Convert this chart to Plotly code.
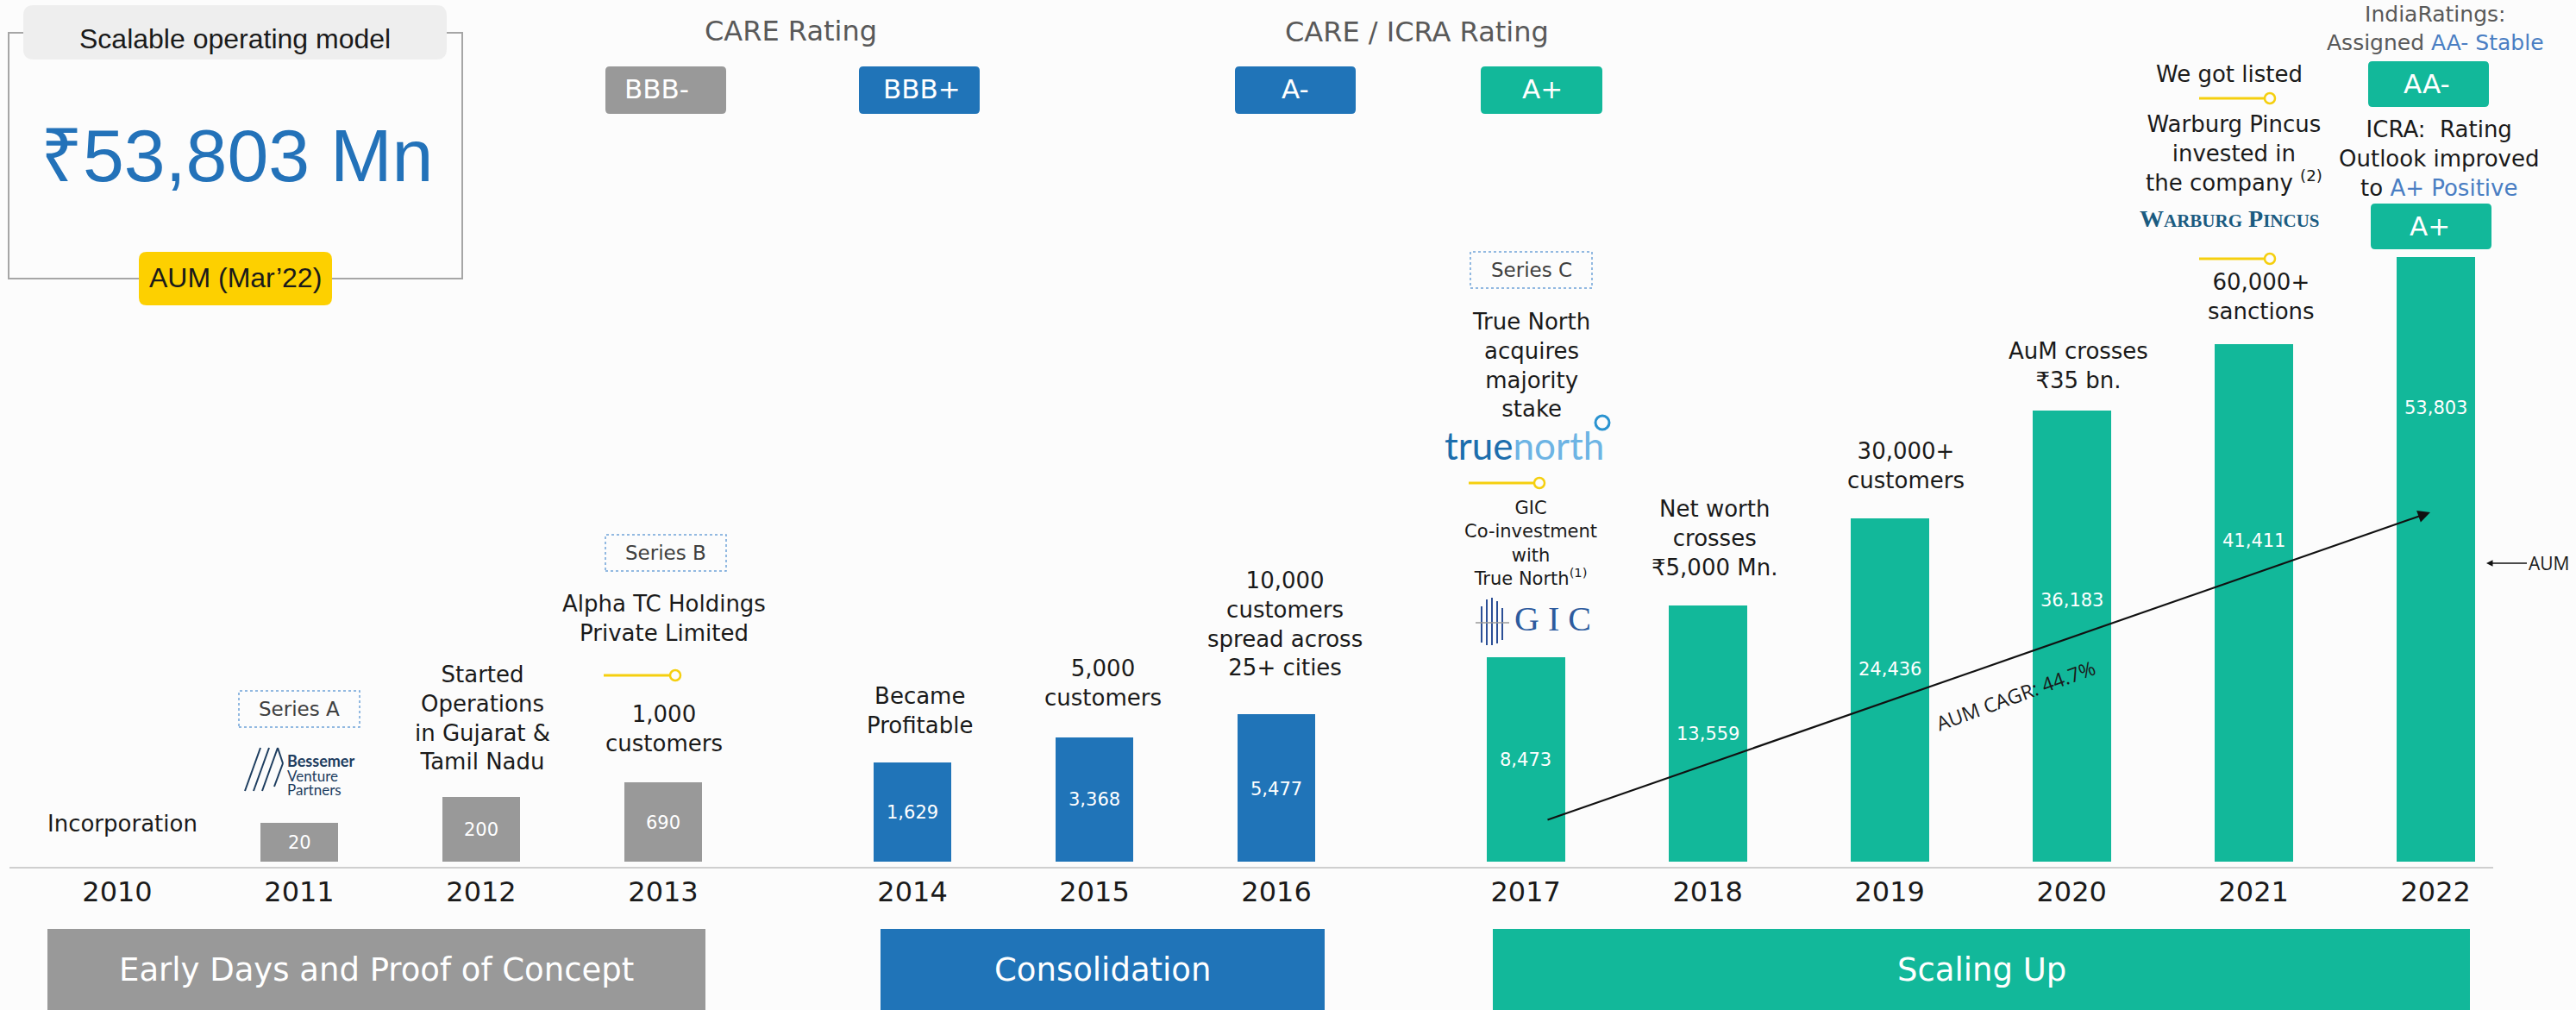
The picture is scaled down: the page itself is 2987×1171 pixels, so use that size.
import plotly.graph_objects as go

# ---------------- data ----------------
years = [2010, 2011, 2012, 2013, 2014, 2015, 2016, 2017, 2018, 2019, 2020, 2021, 2022]
phase_of_year = [0, 0, 0, 0, 1, 1, 1, 2, 2, 2, 2, 2, 2]
bar_years = [2011, 2012, 2013, 2014, 2015, 2016, 2017, 2018, 2019, 2020, 2021, 2022]
aum_mn = [20, 200, 690, 1629, 3368, 5477, 8473, 13559, 24436, 36183, 41411, 53803]
# drawn (not-to-scale) bar heights as shown in the infographic
bar_heights = [45, 75, 92, 115, 144, 171, 237, 297, 398, 523, 600, 701]
label_frac = [0.49, 0.49, 0.49, 0.5, 0.5, 0.49, 0.5, 0.5, 0.56, 0.58, 0.62, 0.75]
phase_names = ["Early Days and Proof of Concept", "Consolidation", "Scaling Up"]
phase_colors = ["#999999", "#2074B8", "#12B89A"]
ratings = ["BBB-", "BBB+", "A-", "A+"]
rating_colors = ["#999999", "#2074B8", "#2074B8", "#12B89A"]
headline_aum = "₹53,803 Mn"
cagr_text = "AUM CAGR: 44.7%"

W, H = 2987, 1171
BG = "#FCFCFC"
BLACK = "#1A1A1A"
GRAY_T = "#595959"
LBLUE = "#4A7EC3"
YEL = "#F5CF0F"
SANS = "DejaVu Sans"
OPEN = "Open Sans"
ARIAL = "Liberation Sans"

# layout helpers (pixel -> paper)
def X(px):
    return px / W

def Y(py):
    return 1 - py / H

SLOT_PX, ORIGIN_PX, GAP = 211.0, 136.0, 0.37
pos = [i + GAP * p for i, p in enumerate(phase_of_year)]
bar_pos = [pos[years.index(y)] for y in bar_years]
bar_colors = [phase_colors[phase_of_year[years.index(y)]] for y in bar_years]

fig = go.Figure()
fig.add_trace(go.Bar(
    x=bar_pos, y=bar_heights, width=0.43,
    marker=dict(color=bar_colors, line=dict(width=0)),
    hoverinfo="skip", showlegend=False,
))

shapes = []
ann = []

def txt(x, y, text, size, color=BLACK, family=SANS, angle=0, xanchor="center"):
    ann.append(dict(x=X(x), y=Y(y), xref="paper", yref="paper", text=text,
                    showarrow=False, xanchor=xanchor, yanchor="middle",
                    textangle=angle,
                    font=dict(size=size, color=color, family=family)))

def rrect(x0, y0, x1, y1, r, fill, line=None, lw=0, dash=None):
    p = (f"M {X(x0 + r)},{Y(y0)} L {X(x1 - r)},{Y(y0)} Q {X(x1)},{Y(y0)} {X(x1)},{Y(y0 + r)} "
         f"L {X(x1)},{Y(y1 - r)} Q {X(x1)},{Y(y1)} {X(x1 - r)},{Y(y1)} "
         f"L {X(x0 + r)},{Y(y1)} Q {X(x0)},{Y(y1)} {X(x0)},{Y(y1 - r)} "
         f"L {X(x0)},{Y(y0 + r)} Q {X(x0)},{Y(y0)} {X(x0 + r)},{Y(y0)} Z")
    shapes.append(dict(type="path", path=p, xref="paper", yref="paper",
                       fillcolor=fill, line=dict(color=line or fill, width=lw, dash=dash)))

def rect(x0, y0, x1, y1, fill=None, line=None, lw=0, dash=None):
    shapes.append(dict(type="rect", xref="paper", yref="paper",
                       x0=X(x0), x1=X(x1), y0=Y(y1), y1=Y(y0),
                       fillcolor=fill or "rgba(0,0,0,0)",
                       line=dict(color=line or "rgba(0,0,0,0)", width=lw, dash=dash)))

def seg(x0, y0, x1, y1, color, w):
    shapes.append(dict(type="line", xref="paper", yref="paper",
                       x0=X(x0), y0=Y(y0), x1=X(x1), y1=Y(y1),
                       line=dict(color=color, width=w)))

def circ(cx, cy, r, color, w):
    shapes.append(dict(type="circle", xref="paper", yref="paper",
                       x0=X(cx - r), x1=X(cx + r), y0=Y(cy + r), y1=Y(cy - r),
                       fillcolor=BG, line=dict(color=color, width=w)))

def connector(x0, x1, y):
    seg(x0, y, x1 - 6, y, YEL, 3)
    circ(x1, y, 6, YEL, 2.5)

# ---------- headline box ----------
rect(10, 38, 536, 323, line="#A6A6A6", lw=2)
rrect(27, 6, 518, 69, 12, "#EEEEEE")
txt(272, 45, "Scalable operating model", 32, BLACK, ARIAL)
txt(274, 180, headline_aum, 86, "#2372B9", ARIAL)
rrect(161, 292, 385, 354, 9, "#FDD000")
txt(273, 322, "AUM (Mar’22)", 32, BLACK, ARIAL)

# ---------- rating headers ----------
txt(917, 36, "CARE Rating", 32, GRAY_T, SANS)
txt(1643, 37, "CARE / ICRA Rating", 32, GRAY_T, SANS)
rating_boxes = [(702, 842), (996, 1136), (1432, 1572), (1717, 1858)]
rating_text_x = [761, 1069, 1502, 1788]
for (a, b), tx, lab, col in zip(rating_boxes, rating_text_x, ratings, rating_colors):
    rrect(a, 77, b, 132, 5, col)
    txt(tx, 103, lab, 31, "white", SANS)

# 2022 column ratings
txt(2824, 33, "IndiaRatings:<br>Assigned <span style='color:%s'>AA- Stable</span>" % LBLUE, 25, GRAY_T, SANS)
rrect(2746, 71, 2886, 124, 5, "#12B89A")
txt(2814, 97, "AA-", 31, "white", SANS)
txt(2828, 184, "ICRA:\u00a0 Rating<br>Outlook improved<br>to <span style='color:%s'>A+ Positive</span>" % LBLUE, 26, BLACK, SANS)
rrect(2749, 236, 2889, 289, 5, "#12B89A")
txt(2817, 262, "A+", 31, "white", SANS)

# ---------- series boxes ----------
for (a, b, c, d), lab in [((277, 801, 417, 843), "Series A"),
                          ((702, 620, 842, 662), "Series B"),
                          ((1705, 292, 1846, 334), "Series C")]:
    rect(a, b, c, d, line="#6FA3D8", lw=1.5, dash="dot")
    txt((a + c) / 2, (b + d) / 2, lab, 23, "#404040", SANS)

# ---------- milestone annotations ----------
txt(142, 955, "Incorporation", 26)
txt(559, 832, "Started<br>Operations<br>in Gujarat &<br>Tamil Nadu", 26)
txt(770, 717, "Alpha TC Holdings<br>Private Limited", 26)
connector(700, 783, 783)
txt(770, 845, "1,000<br>customers", 26)
txt(1066, 824, "Became<br>Profitable", 26)
txt(1279, 792, "5,000<br>customers", 26)
txt(1490, 723, "10,000<br>customers<br>spread across<br>25+ cities", 26)
txt(1775, 423, "True North<br>acquires<br>majority<br>stake", 26)
connector(1703, 1785, 560)
txt(1775, 630, "GIC<br>Co-investment<br>with<br>True North<sup>(1)</sup>", 21)
txt(1988, 624, "Net worth<br>crosses<br>₹5,000 Mn.", 26)
txt(2210, 540, "30,000+<br>customers", 26)
txt(2410, 424, "AuM crosses<br>₹35 bn.", 26)
txt(2585, 86, "We got listed", 26)
connector(2550, 2632, 114)
txt(2590, 178, "Warburg Pincus<br>invested in<br>the company <sup>(2)</sup>", 26)
connector(2550, 2632, 300)
txt(2622, 344, "60,000+<br>sanctions", 26)

# ---------- logos (approximations) ----------
# Bessemer Venture Partners
NAVY = "#1D3D5F"
for dx in (0, 10):
    seg(284 + dx, 917, 302 + dx, 867, NAVY, 2)
seg(304, 917, 322, 867, NAVY, 2)
seg(322, 867, 328, 885, NAVY, 2)
seg(328, 885, 318, 912, NAVY, 2)
txt(331, 882, "<b>Bessemer</b>", 18, NAVY, "Lato", xanchor="left")
txt(331, 899, "Venture", 17, NAVY, "Lato", xanchor="left")
txt(331, 915, "Partners", 17, NAVY, "Lato", xanchor="left")
# truenorth
txt(1767, 516, "<span style='color:#1C6EAD'>true</span><span style='color:#6DB4E4'>north</span>", 44, "#1C6EAD", "Lato")
circ(1858, 490, 8, "#2A93D0", 3)
# GIC
for gx, gy0, gy1 in [(1718, 703, 745), (1724, 695, 748), (1730, 693, 748), (1736, 697, 746), (1742, 705, 742)]:
    seg(gx, gy0, gx, gy1, "#2B4F96", 2)
seg(1711, 722, 1750, 722, "#9A9A9A", 1.5)
txt(1800, 718, "G I C", 40, "#2D5B9E", "Liberation Serif")
# Warburg Pincus
txt(2585, 253, "<b>W<span style='font-size:21px'>ARBURG</span> P<span style='font-size:21px'>INCUS</span></b>",
    28, "#1B5B80", "Liberation Serif")

# ---------- bar value labels ----------
for p, h, v, f in zip(bar_pos, bar_heights, aum_mn, label_frac):
    ann.append(dict(x=p, y=h * f, xref="x", yref="y", text=f"{v:,}", showarrow=False,
                    font=dict(size=21, color="white", family=SANS)))

# ---------- CAGR arrow ----------
ann.append(dict(x=X(2818), y=Y(594), xref="paper", yref="paper", text="",
                showarrow=True, ax=1793 - 2818, ay=951 - 594, axref="pixel", ayref="pixel",
                arrowhead=2, arrowsize=1.3, arrowwidth=2.2, arrowcolor="#111111"))
txt(2337, 806, cagr_text, 23, BLACK, OPEN, angle=-20)
# AUM pointer
ann.append(dict(x=X(2883), y=Y(653), xref="paper", yref="paper", text="AUM",
                showarrow=True, ax=72, ay=0, arrowhead=2, arrowsize=1, arrowwidth=1.5,
                arrowcolor="#111111", font=dict(size=21, color=BLACK, family=OPEN)))

# ---------- phase bands ----------
phase_spans = [(55, 818), (1021, 1536), (1731, 2864)]
for (a, b), name, col in zip(phase_spans, phase_names, phase_colors):
    rect(a, 1077, b, 1175, fill=col)
    txt((a + b) / 2, 1124, name, 37, "white", SANS)

# ---------- axes ----------
x_dom = [11 / W, 2891 / W]
x_rng = [(11 - ORIGIN_PX) / SLOT_PX, (2891 - ORIGIN_PX) / SLOT_PX]
base_px = 1005
fig.update_layout(
    width=W, height=H, autosize=False,
    margin=dict(l=0, r=0, t=0, b=0),
    paper_bgcolor=BG, plot_bgcolor=BG,
    bargap=0,
    xaxis=dict(domain=x_dom, range=x_rng, tickvals=pos, ticktext=[str(y) for y in years],
               showgrid=False, zeroline=False, showline=True, linecolor="#CFCFCF", linewidth=2,
               ticks="", tickfont=dict(size=32, color=BLACK, family=SANS), fixedrange=True),
    yaxis=dict(domain=[1 - base_px / H, 1], range=[-6, 999], visible=False, fixedrange=True),
    shapes=shapes, annotations=ann,
)

fig.write_html("out.html", config={"displayModeBar": False},
               post_script="document.body.style.margin='0px';document.body.style.overflow='hidden';"
                           "document.body.style.background='%s';" % BG)
